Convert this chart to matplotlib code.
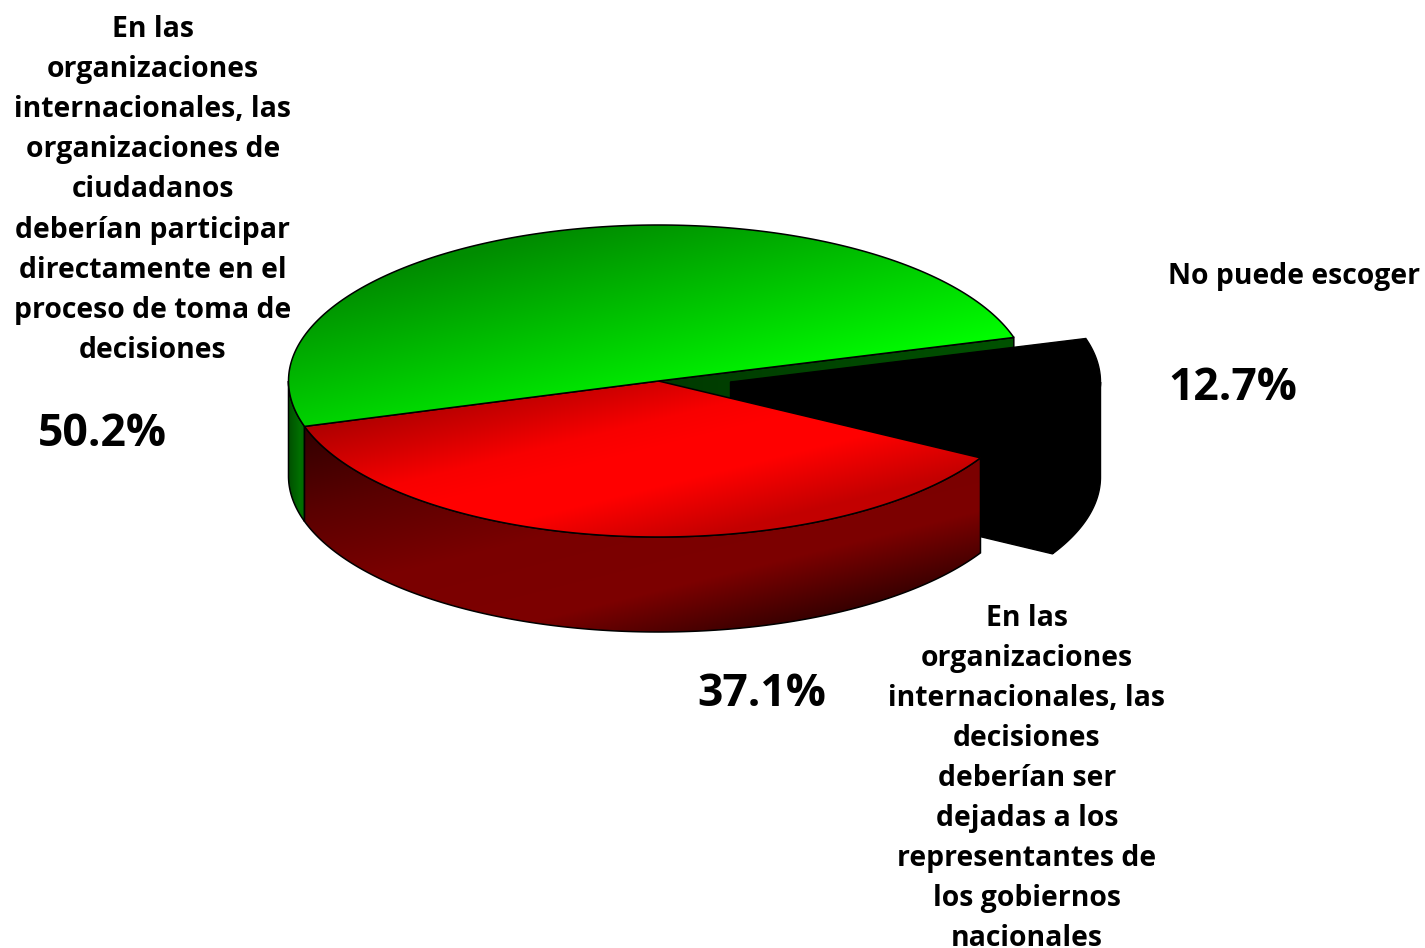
import matplotlib
matplotlib.use('Agg')
import matplotlib.pyplot as plt
from matplotlib.patches import Polygon
import numpy as np

slice_values = [50.2, 37.1, 12.7]
pct_labels = ['50.2%', '37.1%', '12.7%']
green_lines = ['En las', 'organizaciones', 'internacionales, las', 'organizaciones de', 'ciudadanos',
               'deberían participar', 'directamente en el', 'proceso de toma de', 'decisiones']
red_lines = ['En las', 'organizaciones', 'internacionales, las', 'decisiones', 'deberían ser',
             'dejadas a los', 'representantes de', 'los gobiernos', 'nacionales']
black_lines = ['No puede escoger']

W, H = 1425, 948
cx, cy = 658.5, 381
rx, ry = 370, 156
depth = 95
explode = (72, 1)
start = 16.2

plt.rcParams['font.family'] = ['Open Sans', 'DejaVu Sans']

fig = plt.figure(figsize=(W / 100, H / 100), dpi=100)
ax = fig.add_axes([0, 0, 1, 1])

# angles of the slices come from the values
bounds = start + np.cumsum([0] + slice_values) * 3.6


def arc(t0, t1, x0=cx, y0=cy, dy=0):
    t = np.radians(np.linspace(t0, t1, 200))
    return np.column_stack([x0 + rx * np.cos(t), y0 - ry * np.sin(t) + dy])


def wedge(t0, t1, x0=cx, y0=cy):
    return np.vstack([[x0, y0], arc(t0, t1, x0, y0), [x0, y0]])


def band(t0, t1, x0=cx, y0=cy):
    return np.vstack([arc(t0, t1, x0, y0), arc(t1, t0, x0, y0, depth)])


# gradient images, clipped to the faces
xx, yy = np.meshgrid(np.arange(W) + 0.5, np.arange(H) + 0.5)
uu = 0.24 * xx + 0.97 * yy


def shaded(values, channel):
    img = np.zeros((H, W, 3))
    img[..., channel] = np.clip(values, 0, 255) / 255
    return img


def face(verts, img, z, edge=True):
    patch = Polygon(verts, closed=True, fc='none', ec='black' if edge else 'none', lw=1.1, zorder=z + 0.1)
    ax.add_patch(patch)
    im = ax.imshow(img, extent=(0, W, H, 0), zorder=z, interpolation='nearest', aspect='auto')
    im.set_clip_path(Polygon(verts, closed=True, transform=ax.transData))


green_top = shaded(np.maximum(150 + 0.53 * (yy - 225) + 0.13 * (xx - 659), 140), 1)
green_cut = shaded(np.interp(xx, [659, 1013], [58, 82]), 1)
green_side = shaded(np.interp(xx, [289, 300, 305], [80, 112, 105]), 1)
red_top = shaded(np.interp(uu, [490, 530, 565, 590, 630, 690], [175, 212, 248, 255, 255, 195]), 0)
red_side = shaded(np.interp(uu, [480, 570, 650, 730, 800, 820], [45, 90, 122, 125, 50, 30]), 0)

# green cut wall behind the exploded slice
p_right = arc(bounds[0], bounds[0])[0]
face(np.array([[cx, cy], p_right, p_right + [0, depth], [cx, cy + depth]]), green_cut, 1)
face(band(180, bounds[1]), green_side, 1)

# exploded slice, plain black
bx, by = cx + explode[0], cy + explode[1]
p_front = arc(bounds[2], bounds[2], bx, by)[0]
ax.add_patch(Polygon(wedge(bounds[2], bounds[3], bx, by), closed=True, fc='black', ec='black', lw=1, zorder=2))
ax.add_patch(Polygon(band(bounds[2], 360, bx, by), closed=True, fc='black', ec='black', lw=1, zorder=2))
ax.add_patch(Polygon(np.array([[bx, by], p_front, p_front + [0, depth], [bx, by + depth]]),
                     closed=True, fc='black', ec='black', lw=1, zorder=2))

face(band(bounds[1], bounds[2]), red_side, 3)
face(wedge(bounds[1], bounds[2]), red_top, 4)
face(wedge(bounds[0], bounds[1]), green_top, 5)

label_size = 20.4
pct_size = 32
for i, line in enumerate(green_lines):
    ax.text(153, 37 + i * 40.1, line, ha='center', va='baseline', fontsize=label_size, fontweight='bold', color='black')
for i, line in enumerate(red_lines):
    ax.text(1027, 626 + i * 40, line, ha='center', va='baseline', fontsize=label_size, fontweight='bold', color='black')
ax.text(1168, 284, black_lines[0], ha='left', va='baseline', fontsize=label_size, fontweight='bold', color='black')

ax.text(38, 446, pct_labels[0], ha='left', va='baseline', fontsize=pct_size, fontweight='bold', color='black')
ax.text(697, 706, pct_labels[1], ha='left', va='baseline', fontsize=pct_size, fontweight='bold', color='black')
ax.text(1168, 400, pct_labels[2], ha='left', va='baseline', fontsize=pct_size, fontweight='bold', color='black')

ax.set_xlim(0, W)
ax.set_ylim(H, 0)
ax.axis('off')

fig.savefig('out.png', dpi=100, facecolor='white')
